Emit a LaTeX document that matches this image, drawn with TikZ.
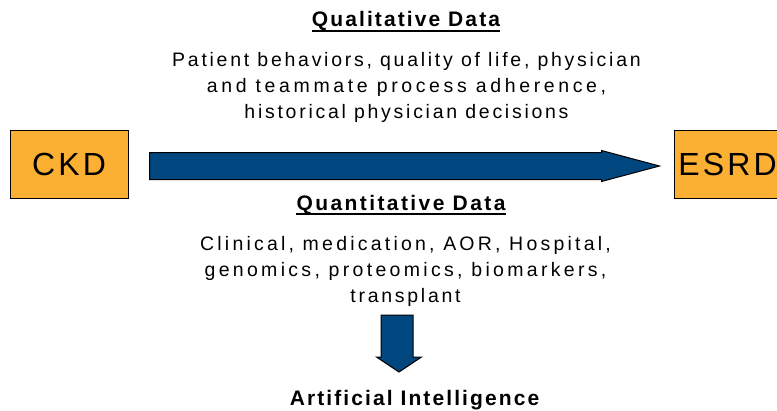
\documentclass[tikz,border=0pt]{standalone}
\usepackage{fontspec}
\setmainfont{Liberation Sans}
\newfontfamily\widesans[LetterSpace=10]{Liberation Sans}
\newfontfamily\bodysans[LetterSpace=14]{Liberation Sans}
\newcommand{\track}[2]{{\addfontfeature{LetterSpace=#1}#2}}
\usetikzlibrary{calc, positioning}
\definecolor{boxorange}{RGB}{251,175,51}
\definecolor{arrowblue}{RGB}{0,70,127}

\begin{document}
\begin{tikzpicture}[x=1pt, y=-1pt,
    stagebox/.style={draw=black, line width=1pt, fill=boxorange, minimum height=68pt, inner sep=0pt,
        font=\widesans\fontsize{32}{38}\selectfont},
    heading/.style={inner sep=0pt, font=\widesans\bfseries\fontsize{21}{26}\selectfont},
    body/.style={inner sep=0pt, align=center, font=\bodysans\fontsize{19.5}{26}\selectfont},
    blockarrow/.style={draw=black, fill=arrowblue, line width=1pt, line join=miter}
]
    \useasboundingbox (0,0) rectangle (777,410);

    % Stages
    \node[stagebox, minimum width=118pt] (ckd) at (69,164) {CKD};
    \node[stagebox, minimum width=107pt] (esrd) at (727.5,164) {ESRD};

    % Progression arrow
    \coordinate (tail) at ($(ckd.east)+(21,2)$);
    \coordinate (tip) at ($(esrd.west)+(-14,2)$);
    \filldraw[blockarrow] ($(tail)+(0,-13.5)$) -- ($(tip)+(-58,-13.5)$) -- ($(tip)+(-58,-15.5)$)
        -- (tip) -- ($(tip)+(-58,15.5)$) -- ($(tip)+(-58,13.5)$) -- ($(tail)+(0,13.5)$) -- cycle;

    % Data sources
    \node[heading, anchor=base] (qlt) at (406,26.7) {Qualitative Data};
    \draw[line width=2pt] ([yshift=-4.3pt]qlt.base west) -- ([yshift=-4.3pt]qlt.base east);
    \node[body, anchor=base] (qltbody) at (406.5,118.7)
        {Patient behaviors, quality of life, physician\\\track{18.6}{and teammate process adherence,}\\historical physician decisions};

    \node[heading, anchor=base] (qnt) at (401,210) {\track{11.5}{Quantitative Data}};
    \draw[line width=2pt] ([yshift=-4pt]qnt.base west) -- ([yshift=-4pt]qnt.base east);
    \node[body, anchor=base] (qntbody) at (405.5,302)
        {\track{16.5}{Clinical, medication, AOR, Hospital,}\\\track{17}{genomics, proteomics, biomarkers,}\\transplant\hspace{9pt}};

    % Down arrow to AI
    \node[heading, anchor=base] (ai) at (414.5,405) {Artificial Intelligence};
    \coordinate (dtop) at (397,315);
    \coordinate (dtip) at (399,372);
    \filldraw[blockarrow] ($(dtop)+(-16,0)$) -- ($(dtop)+(-16,42)$) -- ($(dtip)+(-22.5,-15)$)
        -- (dtip) -- ($(dtip)+(22.5,-15)$) -- ($(dtop)+(16,42)$) -- ($(dtop)+(16,0)$) -- cycle;
\end{tikzpicture}
\end{document}
